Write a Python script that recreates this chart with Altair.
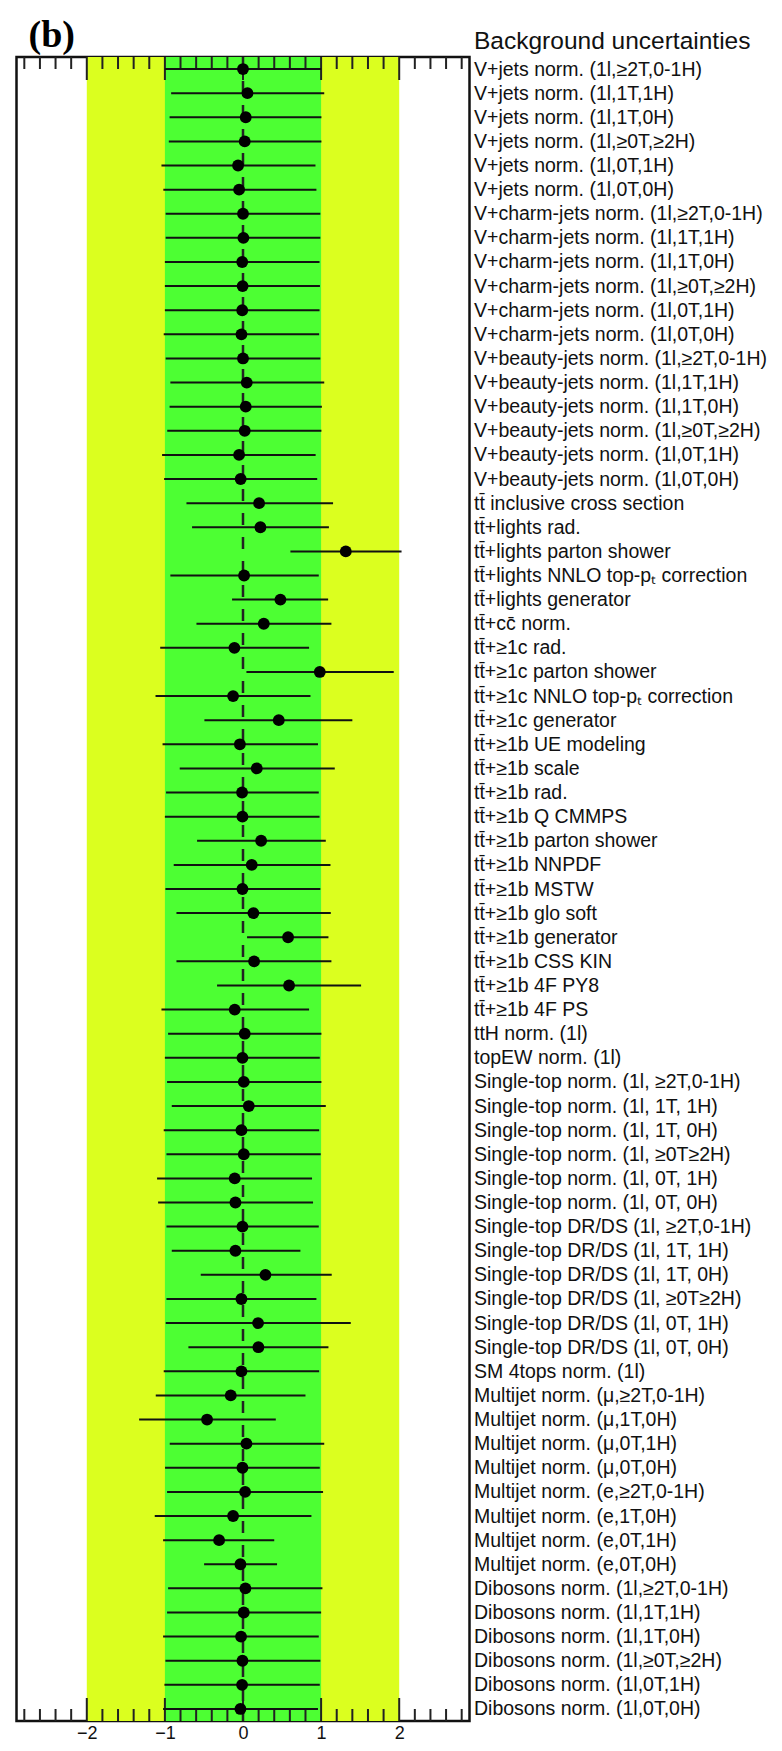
import altair as alt
import pandas as pd

TT = "tt\u0304"
labels = [
    "V+jets norm. (1l,\u22652T,0-1H)",
    "V+jets norm. (1l,1T,1H)",
    "V+jets norm. (1l,1T,0H)",
    "V+jets norm. (1l,\u22650T,\u22652H)",
    "V+jets norm. (1l,0T,1H)",
    "V+jets norm. (1l,0T,0H)",
    "V+charm-jets norm. (1l,\u22652T,0-1H)",
    "V+charm-jets norm. (1l,1T,1H)",
    "V+charm-jets norm. (1l,1T,0H)",
    "V+charm-jets norm. (1l,\u22650T,\u22652H)",
    "V+charm-jets norm. (1l,0T,1H)",
    "V+charm-jets norm. (1l,0T,0H)",
    "V+beauty-jets norm. (1l,\u22652T,0-1H)",
    "V+beauty-jets norm. (1l,1T,1H)",
    "V+beauty-jets norm. (1l,1T,0H)",
    "V+beauty-jets norm. (1l,\u22650T,\u22652H)",
    "V+beauty-jets norm. (1l,0T,1H)",
    "V+beauty-jets norm. (1l,0T,0H)",
    TT + " inclusive cross section",
    TT + "+lights rad.",
    TT + "+lights parton shower",
    TT + "+lights NNLO top-p\u209c correction",
    TT + "+lights generator",
    TT + "+cc\u0304 norm.",
    TT + "+\u22651c rad.",
    TT + "+\u22651c parton shower",
    TT + "+\u22651c NNLO top-p\u209c correction",
    TT + "+\u22651c generator",
    TT + "+\u22651b UE modeling",
    TT + "+\u22651b scale",
    TT + "+\u22651b rad.",
    TT + "+\u22651b Q CMMPS",
    TT + "+\u22651b parton shower",
    TT + "+\u22651b NNPDF",
    TT + "+\u22651b MSTW",
    TT + "+\u22651b glo soft",
    TT + "+\u22651b generator",
    TT + "+\u22651b CSS KIN",
    TT + "+\u22651b 4F PY8",
    TT + "+\u22651b 4F PS",
    "ttH norm. (1l)",
    "topEW norm. (1l)",
    "Single-top norm. (1l, \u22652T,0-1H)",
    "Single-top norm. (1l, 1T, 1H)",
    "Single-top norm. (1l, 1T, 0H)",
    "Single-top norm. (1l, \u22650T\u22652H)",
    "Single-top norm. (1l, 0T, 1H)",
    "Single-top norm. (1l, 0T, 0H)",
    "Single-top DR/DS (1l, \u22652T,0-1H)",
    "Single-top DR/DS (1l, 1T, 1H)",
    "Single-top DR/DS (1l, 1T, 0H)",
    "Single-top DR/DS (1l, \u22650T\u22652H)",
    "Single-top DR/DS (1l, 0T, 1H)",
    "Single-top DR/DS (1l, 0T, 0H)",
    "SM 4tops norm. (1l)",
    "Multijet norm. (\u03bc,\u22652T,0-1H)",
    "Multijet norm. (\u03bc,1T,0H)",
    "Multijet norm. (\u03bc,0T,1H)",
    "Multijet norm. (\u03bc,0T,0H)",
    "Multijet norm. (e,\u22652T,0-1H)",
    "Multijet norm. (e,1T,0H)",
    "Multijet norm. (e,0T,1H)",
    "Multijet norm. (e,0T,0H)",
    "Dibosons norm. (1l,\u22652T,0-1H)",
    "Dibosons norm. (1l,1T,1H)",
    "Dibosons norm. (1l,1T,0H)",
    "Dibosons norm. (1l,\u22650T,\u22652H)",
    "Dibosons norm. (1l,0T,1H)",
    "Dibosons norm. (1l,0T,0H)",
]

pulls = [
    0.0, 0.057, 0.035, 0.022, -0.063, -0.05,
    0.0, 0.005, -0.01, -0.005, -0.01, -0.02,
    0.0, 0.048, 0.035, 0.022, -0.05, -0.03,
    0.206, 0.223, 1.316, 0.014, 0.479, 0.266,
    -0.11, 0.983, -0.127, 0.458,
    -0.04, 0.176, -0.012, -0.007, 0.232, 0.112, -0.007, 0.133, 0.577, 0.142, 0.59, -0.106,
    0.022, -0.007,
    0.01, 0.074, -0.02, 0.01, -0.106, -0.097,
    -0.007, -0.097, 0.287, -0.02, 0.193, 0.197,
    -0.02,
    -0.157, -0.46, 0.044, -0.007, 0.027, -0.127, -0.306, -0.033,
    0.031, 0.01, -0.025, -0.007, -0.012, -0.033,
]
err_lo = [
    -1.0, -0.92, -0.94, -0.95, -1.044, -1.02,
    -0.99, -0.99, -1.0, -1.0, -1.0, -1.015,
    -0.99, -0.93, -0.94, -0.97, -1.036, -1.01,
    -0.724, -0.652, 0.607, -0.93, -0.14, -0.596,
    -1.06, 0.044, -1.12, -0.494,
    -1.03, -0.81, -0.985, -1.0, -0.588, -0.887, -0.993, -0.852, 0.052, -0.852, -0.332, -1.044,
    -0.959, -1.0,
    -0.972, -0.912, -1.015, -0.98, -1.1, -1.087,
    -0.98, -0.912, -0.541, -0.98, -0.989, -0.699,
    -1.015,
    -1.117, -1.33, -0.938, -0.998, -0.972, -1.13, -1.023, -0.498,
    -0.959, -0.972, -1.023, -0.993, -1.006, -1.023,
]
err_hi = [
    1.0, 1.04, 1.004, 1.004, 0.928, 0.94,
    0.99, 0.99, 0.98, 0.985, 0.98, 0.975,
    0.99, 1.04, 1.01, 1.004, 0.93, 0.95,
    1.153, 1.10, 2.03, 0.97, 1.09, 1.132,
    0.846, 1.93, 0.864, 1.40,
    0.96, 1.175, 0.97, 0.98, 1.06, 1.12, 0.99, 1.124, 1.094, 1.132, 1.512, 0.846,
    1.004, 0.983,
    1.004, 1.06, 0.975, 0.995, 0.884, 0.897,
    0.97, 0.735, 1.136, 0.94, 1.38, 1.094,
    0.975,
    0.80, 0.42, 1.04, 0.983, 1.025, 0.876, 0.40, 0.436,
    1.017, 1.0, 0.97, 0.99, 0.983, 0.96,
]

band_lo = [-2, -1]
band_hi = [2, 1]
band_colors = ["#dbff1f", "#4dff33"]

major_ticks = [-2, -1, 0, 1, 2]
minor_ticks = [-2.8, -2.6, -2.4, -2.2, -1.8, -1.6, -1.4, -1.2, -0.8, -0.6, -0.4, -0.2,
               0.2, 0.4, 0.6, 0.8, 1.2, 1.4, 1.6, 1.8, 2.2, 2.4, 2.6, 2.8]
x_domain = [-2.9, 2.9]

W, H = 453, 1664

df = pd.DataFrame({"label": labels, "pull": pulls, "lo": err_lo, "hi": err_hi})
bands = pd.DataFrame({"lo": band_lo, "hi": band_hi, "c": band_colors})
maj = pd.DataFrame({"v": major_ticks})
mnr = pd.DataFrame({"v": minor_ticks})
zero = pd.DataFrame({"x": [0]})

xs = alt.Scale(domain=x_domain, nice=False, zero=False)
xaxis = alt.Axis(values=major_ticks, ticks=False, domain=False, grid=False,
                 labelFont="Liberation Sans", labelFontSize=18, labelColor="#111",
                 labelPadding=3, title=None, format="d")
yaxis = alt.Axis(orient="right", title="Background uncertainties", titleAngle=0,
                 titleAlign="left", titleBaseline="alphabetic", titleX=4, titleY=-9,
                 titleFont="Liberation Sans", titleFontSize=24.5, titleFontWeight="normal",
                 titleColor="#111", labelFont="Liberation Sans", labelFontSize=19.5,
                 labelColor="#111", labelPadding=4, labelLimit=420, labelOverlap=False,
                 labelAlign="left", labelBaseline="middle", ticks=False, domain=False,
                 grid=False)
ys = alt.Scale(type="point", padding=0.5)
yenc = alt.Y("label:N", sort=labels, scale=ys, axis=yaxis)

band_layer = alt.Chart(bands).mark_rect().encode(
    x=alt.X("lo:Q", scale=xs, axis=xaxis), x2="hi:Q",
    y=alt.value(0), y2=alt.value(H),
    color=alt.Color("c:N", scale=None))

def tick_layer(d, top, length):
    if top:
        return alt.Chart(d).mark_rule(color="#222", strokeWidth=2).encode(
            x="v:Q", y=alt.value(0), y2=alt.value(length))
    return alt.Chart(d).mark_rule(color="#222", strokeWidth=2).encode(
        x="v:Q", y=alt.value(H), y2=alt.value(H - length))

zero_line = alt.Chart(zero).mark_rule(color="#222", strokeWidth=2.5,
                                      strokeDash=[12, 12]).encode(x="x:Q")

bars = alt.Chart(df).mark_rule(color="#111", strokeWidth=2).encode(
    x="lo:Q", x2="hi:Q", y=yenc)
dots = alt.Chart(df).mark_circle(size=140, color="#000", opacity=1).encode(
    x="pull:Q", y=yenc)

chart = alt.layer(
    band_layer,
    tick_layer(maj, True, 23), tick_layer(mnr, True, 12),
    tick_layer(maj, False, 23), tick_layer(mnr, False, 12),
    zero_line, bars, dots,
).properties(
    width=W, height=H,
    padding={"left": 8.5, "top": 49, "right": 304.5, "bottom": 22},
    autosize=alt.AutoSizeParams(type="none"),
    title=alt.TitleParams("(b)", anchor="start", frame="group", font="Liberation Serif",
                          fontSize=38, fontWeight="bold", color="#000", dx=12, dy=31,
                          baseline="top"),
).configure_view(stroke="#111", strokeWidth=2.5)

chart.save("out.html", embed_options={"renderer": "svg", "actions": False})
